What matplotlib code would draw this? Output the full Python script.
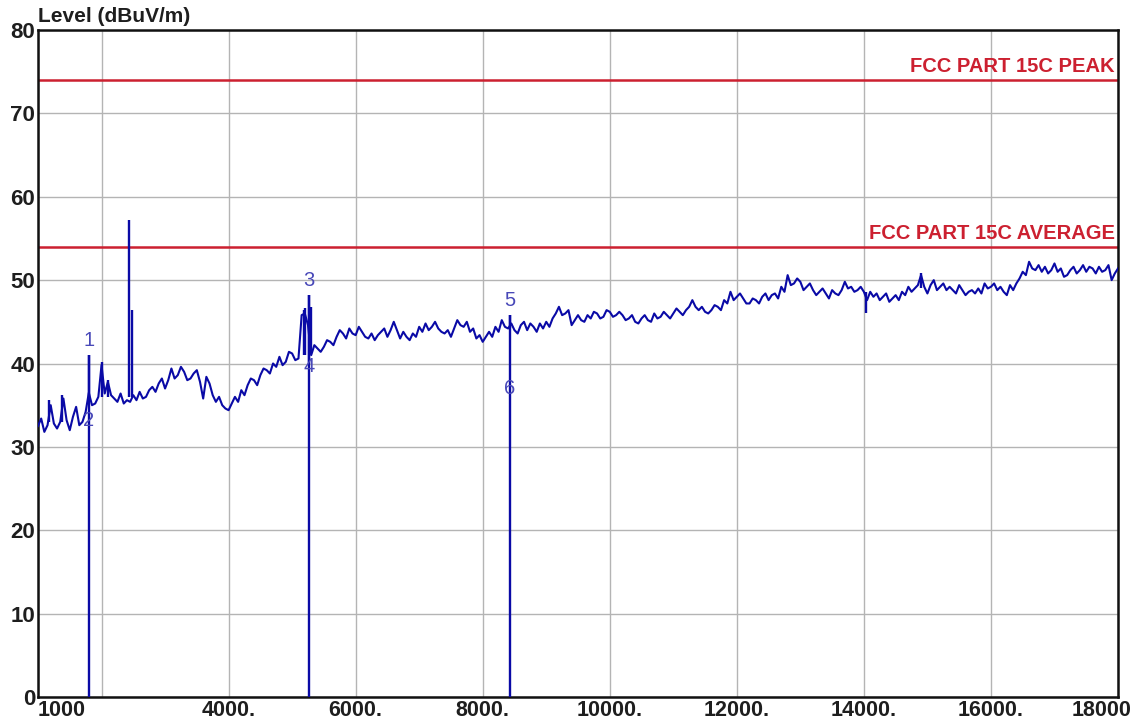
import numpy as np
import matplotlib
matplotlib.use("Agg")
import matplotlib.pyplot as plt
from matplotlib import transforms
from matplotlib import font_manager

# ---------------- data ----------------
freq_start, freq_stop, freq_step = 1000, 18000, 50   # MHz sweep grid
# levels at 1000, 1100, ... 18000 MHz
level_even = [
    32.5, 31.8, 35.0, 32.2, 35.8, 32.0, 34.8, 33.0, 36.5, 35.2,
    39.8, 37.8, 35.8, 36.4, 35.6, 36.2, 36.6, 36.0, 37.2, 37.6,
    37.0, 39.4, 38.6, 39.0, 38.2, 39.2, 35.8, 37.6, 35.4, 35.0,
    34.4, 36.0, 36.8, 37.4, 38.0, 38.6, 39.2, 40.0, 40.8, 40.2,
    41.2, 40.6, 46.0, 41.0, 41.8, 42.0, 42.6, 43.2, 43.6, 44.2,
    43.4, 43.8, 43.0, 42.8, 43.8, 43.2, 45.0, 43.0, 43.2, 43.6,
    44.4, 44.8, 44.4, 44.2, 43.6, 43.2, 45.2, 44.4, 43.8, 43.0,
    42.6, 43.8, 44.4, 45.2, 44.2, 44.0, 44.6, 44.0, 44.4, 44.8,
    45.0, 45.4, 46.8, 46.0, 44.6, 45.8, 45.0, 45.4, 46.0, 45.6,
    46.2, 45.8, 45.8, 45.4, 45.0, 45.4, 45.2, 46.0, 45.6, 45.8,
    46.0, 46.2, 46.4, 47.6, 46.4, 46.2, 46.4, 46.8, 47.6, 48.6,
    48.0, 47.8, 47.2, 47.6, 48.0, 47.6, 48.4, 49.2, 50.6, 49.6,
    49.8, 49.2, 48.8, 48.6, 48.4, 48.8, 48.2, 49.8, 49.2, 48.8,
    48.6, 48.6, 48.4, 48.0, 47.4, 48.2, 48.6, 49.2, 49.0, 50.6,
    48.4, 50.0, 49.2, 48.8, 48.8, 49.4, 48.2, 48.8, 49.0, 49.6,
    49.2, 48.8, 48.6, 49.4, 49.6, 51.0, 52.2, 51.2, 51.0, 50.8,
    52.0, 51.4, 50.6, 51.6, 51.2, 51.0, 51.4, 51.6, 51.2, 50.0,
    51.4,
]
# levels at 1050, 1150, ... 17950 MHz
level_odd = [
    33.4, 32.6, 32.8, 33.0, 33.2, 33.6, 32.6, 34.2, 35.0, 36.0,
    36.4, 36.2, 35.4, 35.2, 35.4, 35.6, 35.8, 36.8, 36.6, 38.2,
    38.0, 38.2, 39.6, 38.0, 38.8, 37.8, 38.4, 36.2, 36.0, 34.6,
    35.2, 35.4, 36.2, 38.2, 37.4, 39.4, 38.8, 39.6, 39.8, 41.4,
    40.4, 45.8, 44.6, 42.2, 41.4, 42.8, 42.2, 44.0, 43.0, 43.6,
    44.4, 43.2, 43.6, 43.4, 44.2, 44.0, 44.0, 43.8, 42.8, 43.2,
    43.8, 44.0, 45.0, 43.8, 44.0, 44.2, 44.6, 45.0, 44.2, 43.4,
    43.2, 43.2, 43.8, 44.4, 44.8, 43.6, 45.0, 44.8, 43.8, 44.2,
    44.4, 46.0, 45.8, 46.4, 45.2, 45.2, 45.8, 46.2, 45.4, 46.4,
    45.6, 46.2, 45.2, 45.8, 44.8, 45.8, 45.0, 45.4, 46.2, 45.4,
    46.6, 45.8, 46.8, 46.8, 46.8, 46.0, 47.0, 46.4, 47.2, 47.6,
    48.4, 47.2, 47.8, 47.2, 48.4, 48.2, 47.8, 48.6, 49.4, 50.2,
    48.8, 49.6, 48.2, 49.0, 47.8, 48.4, 48.8, 49.0, 48.6, 49.2,
    47.6, 48.0, 47.6, 48.4, 47.8, 47.6, 48.2, 48.6, 49.4, 49.2,
    49.4, 48.8, 49.6, 49.2, 48.4, 48.8, 48.6, 48.4, 48.4, 49.0,
    49.6, 49.2, 48.2, 48.8, 50.2, 50.6, 51.4, 51.8, 51.6, 51.2,
    51.0, 50.4, 51.2, 50.8, 51.8, 51.6, 50.8, 51.0, 51.8, 50.8,
]
# narrow spikes in the trace
spike_freq = [1180, 1380, 1800, 2000, 2100, 2440, 2475, 5180, 5210, 5260, 5300, 8430, 14040, 14900]
spike_base = [33.0, 33.0, 35.5, 36.0, 36.0, 36.0, 36.0, 41.0, 41.0, 40.0, 41.5, 44.2, 48.6, 49.0]
spike_top = [35.6, 36.2, 41.0, 40.2, 38.0, 57.2, 46.4, 46.4, 46.6, 48.2, 46.8, 45.8, 46.0, 50.8]

# markers
marker_ids = ["1", "2", "3", "4", "5", "6"]
marker_freq = [1800, 1800, 5260, 5260, 8430, 8430]
marker_level = [41.0, 31.5, 48.2, 37.9, 45.8, 35.3]

# limit lines
limit_names = ["FCC PART 15C PEAK", "FCC PART 15C AVERAGE"]
limit_levels = [74.0, 54.0]

x_ticks = [1000, 2000, 4000, 6000, 8000, 10000, 12000, 14000, 16000, 18000]
x_labels = ["1000", "", "4000.", "6000.", "8000.", "10000.", "12000.", "14000.", "16000.", "18000"]
y_ticks = [0, 10, 20, 30, 40, 50, 60, 70, 80]

# ---------------- style ----------------
names = {f.name for f in font_manager.fontManager.ttflist}
base_font = "Liberation Sans" if "Liberation Sans" in names else "DejaVu Sans"
narrow_font = "Liberation Sans Narrow" if "Liberation Sans Narrow" in names else base_font
plt.rcParams["font.family"] = [base_font, "DejaVu Sans"]

trace_color = "#0a0aa6"
marker_text_color = "#4848b8"
limit_color = "#cc2030"
grid_color = "#b4b4b4"

fig = plt.figure(figsize=(11.43, 7.20), dpi=100)
ax = fig.add_axes([38 / 1143, 1 - 697 / 720, (1118 - 38) / 1143, (697 - 30) / 720])

freq = np.arange(freq_start, freq_stop + 1, freq_step)
level = np.empty(len(freq))
level[0::2] = level_even
level[1::2] = level_odd
ax.plot(freq, level, color=trace_color, lw=1.5, zorder=3)
ax.vlines(spike_freq, spike_base, spike_top, color=trace_color, lw=1.7, zorder=3)

# marker lines from 0 up to the peak marker levels
for mid, mf, ml in zip(marker_ids, marker_freq, marker_level):
    if int(mid) % 2 == 1:
        ax.vlines(mf, 0, ml, color=trace_color, lw=1.7, zorder=3)
for mid, mf, ml in zip(marker_ids, marker_freq, marker_level):
    ax.text(mf, ml + 1.7, mid, color=marker_text_color, fontsize=14.5,
            ha="center", va="center", zorder=4)

# limit lines
for name, lv in zip(limit_names, limit_levels):
    ax.axhline(lv, color=limit_color, lw=1.8, zorder=2)
    ax.text(17950, lv + 0.5, name, color=limit_color, fontsize=14.5, fontweight="bold",
            family=[narrow_font, "DejaVu Sans"], ha="right", va="bottom", zorder=4)

ax.set_xlim(freq_start, freq_stop)
ax.set_ylim(0, 80)
ax.set_xticks(x_ticks)
ax.set_xticklabels(x_labels)
ax.set_yticks(y_ticks)
ax.grid(True, color=grid_color, lw=1.0, zorder=0)
ax.set_axisbelow(True)
ax.tick_params(axis="x", length=0, labelsize=15.5, labelcolor="#1e1e1e", pad=2)
ax.tick_params(axis="y", length=0, labelsize=16, labelcolor="#1e1e1e", pad=2)
for lab in ax.get_yticklabels():
    lab.set_fontweight("bold")
for lab in ax.get_xticklabels():
    lab.set_fontweight("bold")
xl = ax.get_xticklabels()
xl[0].set_horizontalalignment("left")
xl[-1].set_transform(xl[-1].get_transform() + transforms.ScaledTranslation(-0.16, 0, fig.dpi_scale_trans))
for s in ax.spines.values():
    s.set_color("#111111")
    s.set_linewidth(1.8)

fig.text(38 / 1143, 1 - 17 / 720, "Level (dBuV/m)", fontsize=15, fontweight="bold",
         color="#1e1e1e", ha="left", va="center")

fig.savefig("out.png", dpi=100, facecolor="white")
